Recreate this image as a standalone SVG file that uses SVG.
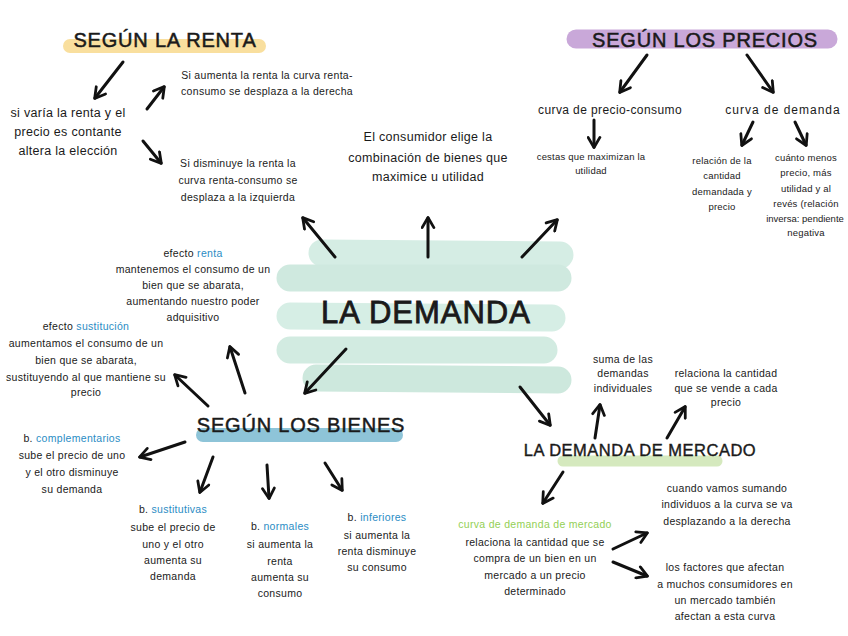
<svg xmlns="http://www.w3.org/2000/svg" width="848" height="636" viewBox="0 0 848 636">
<defs>
<marker id="ah" viewBox="0 0 14 14" refX="11" refY="7" markerWidth="15" markerHeight="15" orient="auto" markerUnits="userSpaceOnUse">
<path d="M2,1.5 L11.5,7 L2,12.5" fill="none" stroke="#111" stroke-width="2.6" stroke-linecap="round" stroke-linejoin="round"/>
</marker>
<style>
text{font-family:"Liberation Sans","DejaVu Sans",sans-serif;fill:#1a1a1a;text-anchor:middle}
.t{font-size:20px;letter-spacing:0.8px;stroke:#1a1a1a;stroke-width:0.5px}
.b{font-size:10.5px;letter-spacing:0.3px}
.s{font-size:9.5px;letter-spacing:0.2px}
.m{font-size:12.5px;letter-spacing:0.3px}
.blue{fill:#2a8cc4}
.grn{fill:#93cf55}
.arr path{fill:none;stroke:#111;stroke-width:3;stroke-linecap:round;marker-end:url(#ah)}
.band{stroke-linecap:round;fill:none}
</style>
</defs>
<rect width="848" height="636" fill="#ffffff"/>

<g id="la-demanda">
<g fill="none" stroke-linecap="round" stroke-width="27">
<path d="M322,253 L560,255" stroke="#d5ede4"/>
<path d="M290,278 L558,278" stroke="#cfe9df"/>
<path d="M290,316 L552,318" stroke="#d6eee5"/>
<path d="M290,350 L544,350" stroke="#d2ebe1"/>
<path d="M316,378 L558,380" stroke="#cde8dd"/>
</g>
<text x="426" y="323" style="font-size:31px;letter-spacing:1px;stroke:#1a1a1a;stroke-width:0.8px">LA DEMANDA</text>
</g>

<g id="segun-la-renta">
<path class="band" d="M70,46 L259,46" stroke="#f9df9e" stroke-width="14"/>
<text class="t" x="165" y="47">SEGÚN LA RENTA</text>
</g>

<g id="si-varia">
<text class="m" x="68" y="117">si varía la renta y el</text>
<text class="m" x="68" y="136">precio es contante</text>
<text class="m" x="68" y="155">altera la elección</text>
</g>

<g id="si-aumenta">
<text class="b" x="267" y="79">Si aumenta la renta la curva renta-</text>
<text class="b" x="267" y="95">consumo se desplaza a la derecha</text>
</g>

<g id="si-disminuye">
<text class="b" x="238" y="167">Si disminuye la renta la</text>
<text class="b" x="238" y="184">curva renta-consumo se</text>
<text class="b" x="238" y="201">desplaza a la izquierda</text>
</g>

<g id="consumidor">
<text class="m" x="428" y="141">El consumidor elige la</text>
<text class="m" x="428" y="162">combinación de bienes que</text>
<text class="m" x="428" y="181">maximice u utilidad</text>
</g>

<g id="segun-los-precios">
<path class="band" d="M576,39 L828,39" stroke="#c9a8d9" stroke-width="19"/>
<text class="t" x="705" y="47">SEGÚN LOS PRECIOS</text>
</g>

<g id="curva-precio-consumo">
<text x="610" y="114" style="font-size:12px;letter-spacing:0.4px">curva de precio-consumo</text>
</g>
<g id="curva-demanda">
<text x="783" y="114" style="font-size:12px;letter-spacing:1px">curva de demanda</text>
</g>
<g id="cestas">
<text class="s" x="591" y="160">cestas que maximizan la</text>
<text class="s" x="591" y="174">utilidad</text>
</g>
<g id="relacion">
<text class="s" x="722" y="164">relación de la</text>
<text class="s" x="722" y="179">cantidad</text>
<text class="s" x="722" y="195">demandada y</text>
<text class="s" x="722" y="210">precio</text>
</g>
<g id="cuanto-menos">
<text class="s" x="806" y="161">cuánto menos</text>
<text class="s" x="806" y="176">precio, más</text>
<text class="s" x="806" y="192">utilidad y al</text>
<text class="s" x="806" y="207">revés (relación</text>
<text class="s" x="805" y="222" style="letter-spacing:0">inversa: pendiente</text>
<text class="s" x="806" y="236">negativa</text>
</g>

<g id="efecto-renta">
<text class="b" x="193" y="257">efecto <tspan class="blue">renta</tspan></text>
<text class="b" x="193" y="273">mantenemos el consumo de un</text>
<text class="b" x="193" y="289">bien que se abarata,</text>
<text class="b" x="193" y="305">aumentando nuestro poder</text>
<text class="b" x="193" y="321">adquisitivo</text>
</g>

<g id="efecto-sustitucion">
<text class="b" x="86" y="330">efecto <tspan class="blue">sustitución</tspan></text>
<text class="b" x="86" y="347">aumentamos el consumo de un</text>
<text class="b" x="86" y="364">bien que se abarata,</text>
<text class="b" x="86" y="381">sustituyendo al que mantiene su</text>
<text class="b" x="86" y="396">precio</text>
</g>

<g id="segun-los-bienes">
<path class="band" d="M203,435 L396,435" stroke="#8ec4d8" stroke-width="14"/>
<text class="t" x="301" y="432">SEGÚN LOS BIENES</text>
</g>

<g id="complementarios">
<text class="b" x="72" y="442">b. <tspan class="blue">complementarios</tspan></text>
<text class="b" x="72" y="459">sube el precio de uno</text>
<text class="b" x="72" y="476">y el otro disminuye</text>
<text class="b" x="72" y="493">su demanda</text>
</g>
<g id="sustitutivas">
<text class="b" x="173" y="513">b. <tspan class="blue">sustitutivas</tspan></text>
<text class="b" x="173" y="531">sube el precio de</text>
<text class="b" x="173" y="548">uno y el otro</text>
<text class="b" x="173" y="564">aumenta su</text>
<text class="b" x="173" y="580">demanda</text>
</g>
<g id="normales">
<text class="b" x="280" y="530">b. <tspan class="blue">normales</tspan></text>
<text class="b" x="280" y="548">si aumenta la</text>
<text class="b" x="280" y="565">renta</text>
<text class="b" x="280" y="581">aumenta su</text>
<text class="b" x="280" y="597">consumo</text>
</g>
<g id="inferiores">
<text class="b" x="377" y="521">b. <tspan class="blue">inferiores</tspan></text>
<text class="b" x="377" y="539">si aumenta la</text>
<text class="b" x="377" y="555">renta disminuye</text>
<text class="b" x="377" y="571">su consumo</text>
</g>

<g id="demanda-mercado">
<path class="band" d="M563,461 L717,461" stroke="#d5e9be" stroke-width="11"/>
<text x="640" y="456" style="font-size:16.5px;letter-spacing:0.5px;stroke:#1a1a1a;stroke-width:0.4px">LA DEMANDA DE MERCADO</text>
</g>
<g id="suma">
<text class="b" x="623" y="363">suma de las</text>
<text class="b" x="623" y="377">demandas</text>
<text class="b" x="623" y="392">individuales</text>
</g>
<g id="relaciona-cantidad">
<text class="b" x="726" y="377">relaciona la cantidad</text>
<text class="b" x="726" y="392">que se vende a cada</text>
<text class="b" x="726" y="406">precio</text>
</g>
<g id="curva-mercado">
<text class="b" x="535" y="528"><tspan class="grn">curva de demanda de mercado</tspan></text>
<text class="b" x="535" y="546">relaciona la cantidad que se</text>
<text class="b" x="535" y="562">compra de un bien en un</text>
<text class="b" x="535" y="579">mercado a un precio</text>
<text class="b" x="535" y="595">determinado</text>
</g>
<g id="cuando-vamos">
<text class="b" x="727" y="492">cuando vamos sumando</text>
<text class="b" x="727" y="508">individuos a la curva se va</text>
<text class="b" x="727" y="525">desplazando a la derecha</text>
</g>
<g id="factores">
<text class="b" x="725" y="571">los factores que afectan</text>
<text class="b" x="725" y="588">a muchos consumidores en</text>
<text class="b" x="725" y="604">un mercado también</text>
<text class="b" x="725" y="620">afectan a esta curva</text>
</g>

<g id="connectors" class="arr">
<path d="M123,62 L95,98"/>
<path d="M147,109 L164,87"/>
<path d="M143,141 L161,163"/>
<path d="M335,257 L303,218"/>
<path d="M428,257 L428,218"/>
<path d="M522,257 L557,220"/>
<path d="M647,55 L620,92"/>
<path d="M747,55 L773,92"/>
<path d="M594,120 L594,147"/>
<path d="M753,122 L742,145"/>
<path d="M795,122 L806,145"/>
<path d="M346,349 L305,393"/>
<path d="M520,387 L550,425"/>
<path d="M245,393 L230,347"/>
<path d="M208,406 L175,375"/>
<path d="M185,442 L140,457"/>
<path d="M213,457 L200,492"/>
<path d="M267,465 L269,498"/>
<path d="M325,463 L342,490"/>
<path d="M595,438 L600,405"/>
<path d="M667,438 L685,407"/>
<path d="M563,472 L543,503"/>
<path d="M613,549 L647,533"/>
<path d="M613,562 L647,576"/>
</g>
</svg>
